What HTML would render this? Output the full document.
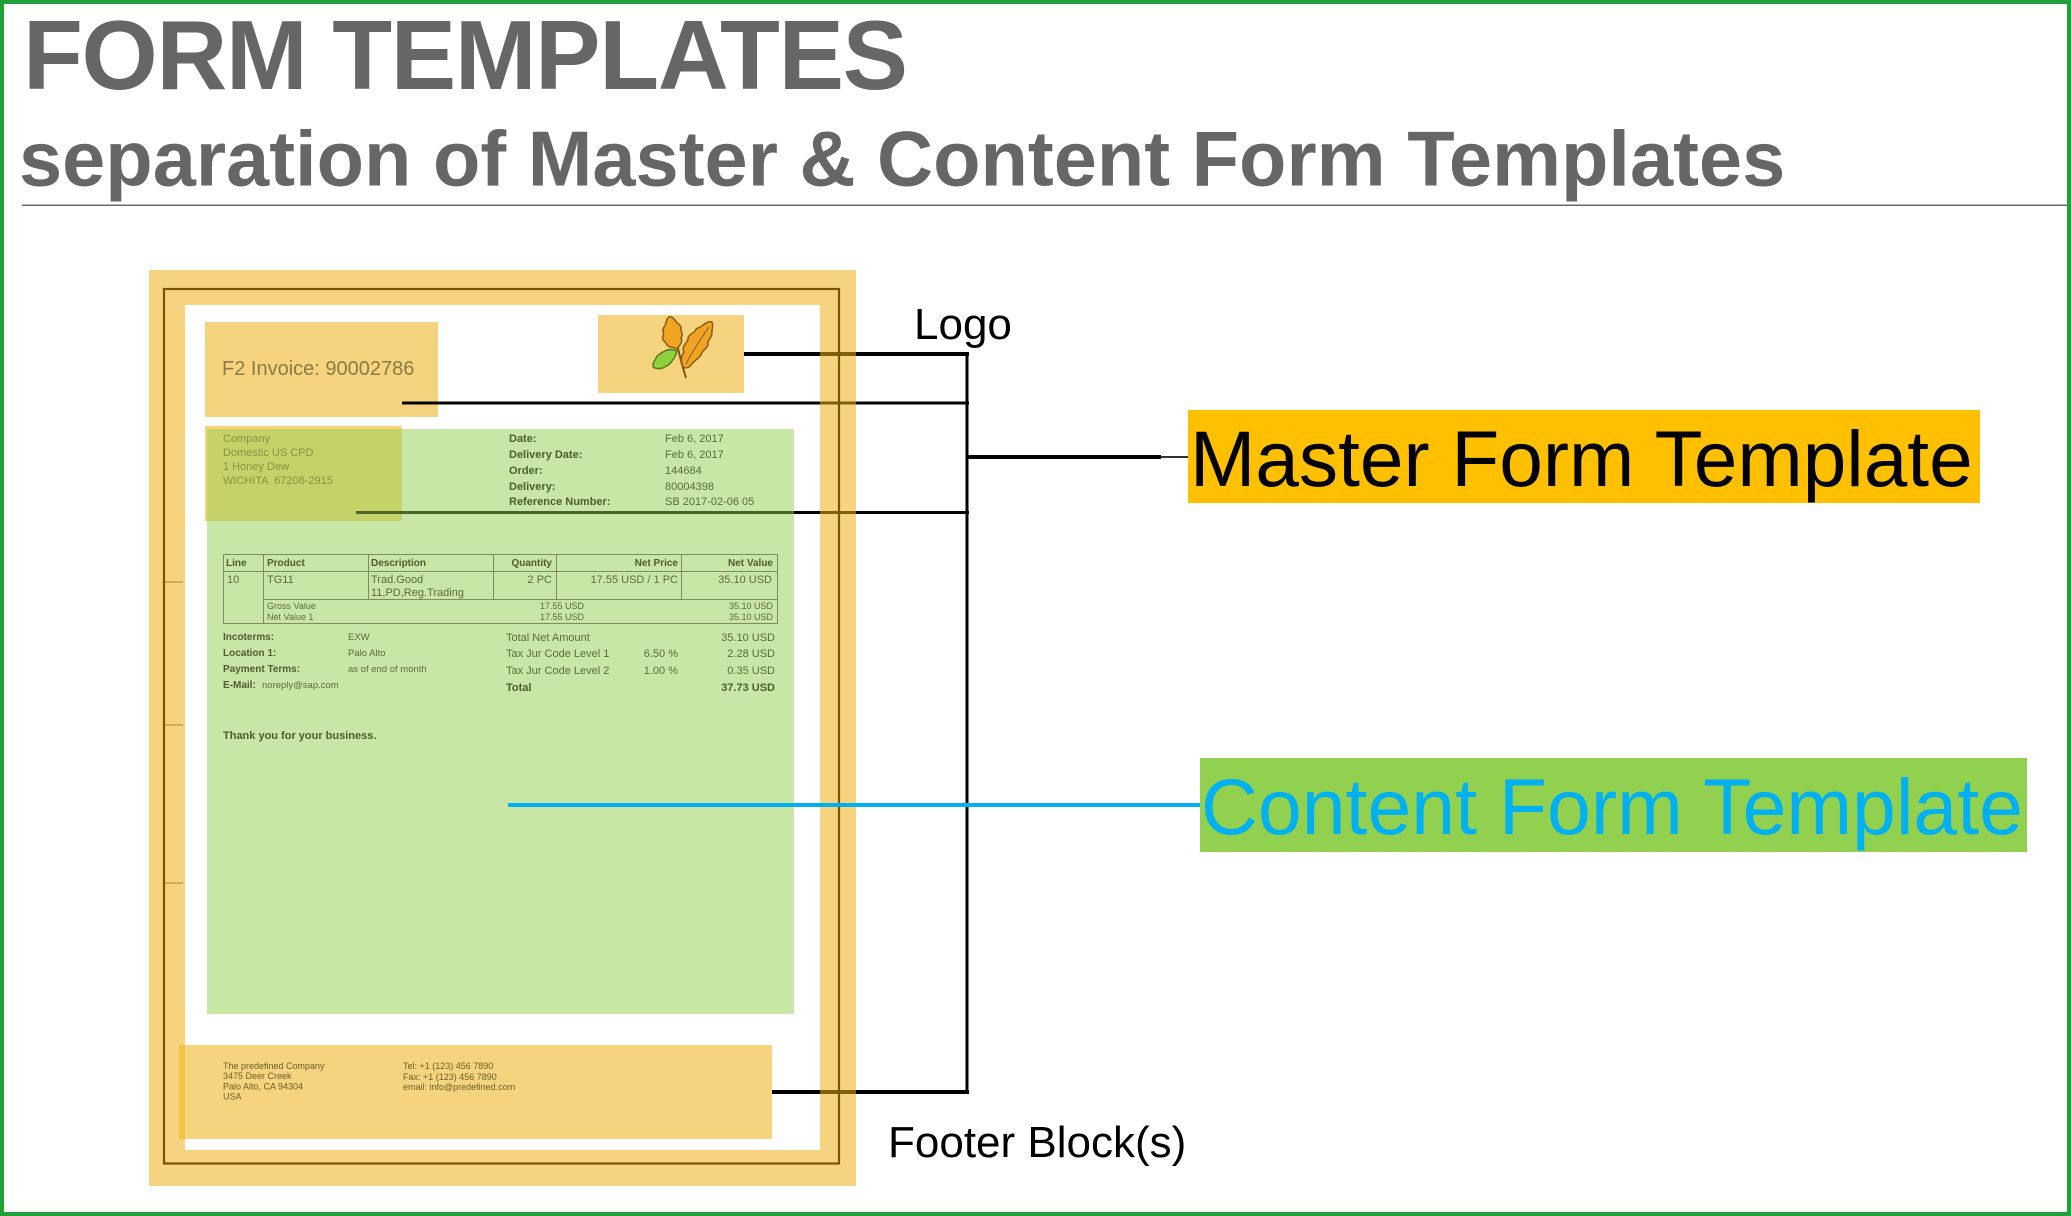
<!DOCTYPE html>
<html>
<head>
<meta charset="utf-8">
<style>
html,body{margin:0;padding:0;width:2071px;height:1216px;overflow:hidden;background:#fff}
svg{display:block}
text{font-family:"Liberation Sans",Arial,sans-serif}
</style>
</head>
<body>
<svg width="2071" height="1216" viewBox="0 0 2071 1216" xmlns="http://www.w3.org/2000/svg">
<rect x="0" y="0" width="2071" height="1216" fill="#ffffff"/>

<!-- Titles -->
<text x="23" y="89" font-size="98" font-weight="bold" fill="#666666" letter-spacing="-1.3">FORM TEMPLATES</text>
<text x="19" y="185.5" font-size="77.6" font-weight="bold" fill="#666666">separation of Master &amp; Content Form Templates</text>
<rect x="22" y="204.5" width="2049" height="1.5" fill="#6a6a6a"/>

<!-- Orange frame and white page -->
<rect x="149" y="270" width="707" height="916" fill="#f6d47f"/>
<rect x="185" y="305" width="635" height="845" fill="#ffffff"/>

<!-- Master blocks (orange) -->
<rect x="205" y="322" width="233" height="95" fill="#f6d47f"/>
<rect x="598" y="315" width="146" height="78" fill="#f6d47f"/>
<rect x="205" y="426" width="197" height="95" fill="#f6d47f"/>
<rect x="179" y="1045" width="593" height="94" fill="#f6d47f"/>
<rect x="179" y="1045" width="6" height="94" fill="#f3c240"/>

<!-- Connector lines (black) -->
<rect x="744" y="352" width="225" height="4" fill="#000"/>
<rect x="402" y="401.5" width="567" height="3" fill="#000"/>
<rect x="356" y="511" width="613" height="3" fill="#000"/>
<rect x="772" y="1090" width="197" height="4" fill="#000"/>
<rect x="965.5" y="352" width="3" height="742" fill="#000"/>
<rect x="967" y="455" width="194" height="4" fill="#000"/>
<rect x="1161" y="456" width="27" height="2" fill="#333"/>

<!-- line segments under frame band -->
<rect x="820" y="352" width="36" height="4" fill="#80600f"/>
<rect x="820" y="401.5" width="36" height="3" fill="#80600f"/>
<rect x="820" y="511" width="36" height="3" fill="#80600f"/>
<rect x="820" y="1090" width="36" height="4" fill="#80600f"/>

<!-- Green content overlay -->
<rect x="207" y="429" width="587" height="585" fill="#92d050" fill-opacity="0.5"/>

<!-- Dark frame line -->
<rect x="164" y="289" width="675" height="874.5" fill="none" stroke="#7a5500" stroke-width="2.2"/>
<!-- ticks -->
<rect x="165" y="581.5" width="18" height="1" fill="#a8853a"/>
<rect x="165" y="724.5" width="18" height="1" fill="#a8853a"/>
<rect x="165" y="882.5" width="18" height="1" fill="#a8853a"/>

<!-- Logo leaves -->
<g stroke-linejoin="round">
  <path d="M677,344 Q681,362 686,378" fill="none" stroke="#7a5a10" stroke-width="2"/>
  <path d="M669,317 C665,320 667,324 664,327 C661,330 665,333 663,336 C661,340 666,342 667,345 C669,348 674,347 677,349 C680,345 683,342 681,338 C684,334 680,331 681,327 C679,323 676,323 675,320 C673,318 671,316 669,317 Z" fill="#f0a424" stroke="#8a5a10" stroke-width="1.5"/>
  <path d="M684,368 C680,362 681,356 684,352 C681,347 686,344 688,340 C687,335 693,334 695,331 C696,327 701,328 703,325 C706,323 709,321 712,322 C714,327 711,330 712,334 C711,339 707,340 708,345 C706,350 702,350 701,355 C697,360 694,361 691,365 C689,368 686,368 684,368 Z" fill="#f0a424" stroke="#8a5a10" stroke-width="1.5"/>
  <path d="M686,364 C692,352 700,340 709,327" fill="none" stroke="#8a5a10" stroke-width="1"/>
  <path d="M653,367 C652,362 656,360 657,356 C660,354 662,352 665,351 C668,349 673,349 677,351 C676,355 675,358 672,361 C670,365 666,366 663,368 C659,369 656,369 653,367 Z" fill="#8fcf3a" stroke="#5a7a20" stroke-width="1.5"/>
</g>

<!-- Invoice header -->
<text x="222" y="375" font-size="20" fill="#8a7a45">F2 Invoice: 90002786</text>

<!-- Address -->
<g font-size="11" fill="#8d8f45">
  <text x="223" y="442">Company</text>
  <text x="223" y="456">Domestic US CPD</text>
  <text x="223" y="470">1 Honey Dew</text>
  <text x="223" y="484" xml:space="preserve">WICHITA  67208-2915</text>
</g>

<!-- Date block -->
<g font-size="11" font-weight="bold" fill="#4d5d30">
  <text x="509" y="442">Date:</text>
  <text x="509" y="458">Delivery Date:</text>
  <text x="509" y="474">Order:</text>
  <text x="509" y="490">Delivery:</text>
  <text x="509" y="505">Reference Number:</text>
</g>
<g font-size="11" fill="#5a6a3c">
  <text x="665" y="442">Feb 6, 2017</text>
  <text x="665" y="458">Feb 6, 2017</text>
  <text x="665" y="474">144684</text>
  <text x="665" y="490">80004398</text>
  <text x="665" y="505">SB 2017-02-06 05</text>
</g>

<!-- Table -->
<g fill="none" stroke="#7d8c60" stroke-width="1">
  <rect x="223.5" y="554.5" width="554" height="69"/>
  <line x1="223.5" y1="571.5" x2="777.5" y2="571.5"/>
  <line x1="263.5" y1="599.5" x2="777.5" y2="599.5"/>
  <line x1="263.5" y1="554.5" x2="263.5" y2="623.5"/>
  <line x1="368.5" y1="554.5" x2="368.5" y2="599.5"/>
  <line x1="493.5" y1="554.5" x2="493.5" y2="599.5"/>
  <line x1="556.5" y1="554.5" x2="556.5" y2="599.5"/>
  <line x1="681.5" y1="554.5" x2="681.5" y2="599.5"/>
</g>
<g font-size="10" font-weight="bold" fill="#4d5d30">
  <text x="226" y="566">Line</text>
  <text x="267" y="566">Product</text>
  <text x="371" y="566">Description</text>
  <text x="552" y="566" text-anchor="end">Quantity</text>
  <text x="678" y="566" text-anchor="end">Net Price</text>
  <text x="773" y="566" text-anchor="end">Net Value</text>
</g>
<g font-size="11" fill="#5a6a3c">
  <text x="227" y="583">10</text>
  <text x="267" y="583">TG11</text>
  <text x="371" y="583">Trad.Good</text>
  <text x="371" y="596">11,PD,Reg.Trading</text>
  <text x="552" y="583" text-anchor="end">2 PC</text>
  <text x="678" y="583" text-anchor="end">17.55 USD / 1 PC</text>
  <text x="772" y="583" text-anchor="end">35.10 USD</text>
</g>
<g font-size="9" fill="#5a6a3c">
  <text x="267" y="609">Gross Value</text>
  <text x="584" y="609" text-anchor="end">17.55 USD</text>
  <text x="773" y="609" text-anchor="end">35.10 USD</text>
  <text x="267" y="620">Net Value 1</text>
  <text x="584" y="620" text-anchor="end">17.55 USD</text>
  <text x="773" y="620" text-anchor="end">35.10 USD</text>
</g>

<!-- Below table -->
<g font-size="10" font-weight="bold" fill="#4d5d30">
  <text x="223" y="640">Incoterms:</text>
  <text x="223" y="656">Location 1:</text>
  <text x="223" y="672">Payment Terms:</text>
  <text x="223" y="688">E-Mail:</text>
</g>
<g font-size="9.5" fill="#5a6a3c">
  <text x="348" y="640">EXW</text>
  <text x="348" y="656">Palo Alto</text>
  <text x="348" y="672">as of end of month</text>
  <text x="262" y="688">noreply@sap.com</text>
</g>
<g font-size="11" fill="#5a6a3c">
  <text x="506" y="641">Total Net Amount</text>
  <text x="506" y="657">Tax Jur Code Level 1</text>
  <text x="506" y="674">Tax Jur Code Level 2</text>
  <text x="678" y="657" text-anchor="end">6.50 %</text>
  <text x="678" y="674" text-anchor="end">1.00 %</text>
  <text x="775" y="641" text-anchor="end">35.10 USD</text>
  <text x="775" y="657" text-anchor="end">2.28 USD</text>
  <text x="775" y="674" text-anchor="end">0.35 USD</text>
</g>
<g font-size="11" font-weight="bold" fill="#4d5d30">
  <text x="506" y="691">Total</text>
  <text x="775" y="691" text-anchor="end">37.73 USD</text>
  <text x="223" y="739">Thank you for your business.</text>
</g>

<!-- Footer text -->
<g font-size="9" fill="#6b5e28">
  <text x="223" y="1069">The predefined Company</text>
  <text x="223" y="1079">3475 Deer Creek</text>
  <text x="223" y="1089.5">Palo Alto, CA 94304</text>
  <text x="223" y="1099.5">USA</text>
  <text x="403" y="1069">Tel: +1 (123) 456 7890</text>
  <text x="403" y="1080">Fax: +1 (123) 456 7890</text>
  <text x="403" y="1090">email: info@predefined.com</text>
</g>

<!-- Cyan connector -->
<rect x="508" y="803" width="692" height="4" fill="#00b0f0"/>

<!-- Labels -->
<text x="914" y="339" font-size="44" fill="#000">Logo</text>
<text x="888" y="1157" font-size="44" fill="#000">Footer Block(s)</text>

<rect x="1188" y="410" width="792" height="93" fill="#ffc000"/>
<text x="1190" y="486" font-size="78.4" fill="#000">Master Form Template</text>

<rect x="1200" y="758" width="827" height="94" fill="#92d050"/>
<text x="1201" y="834" font-size="78.8" fill="#00b0f0">Content Form Template</text>

<!-- Green outer border -->
<rect x="2" y="2" width="2067" height="1212" fill="none" stroke="#22a038" stroke-width="4"/>
</svg>
</body>
</html>
